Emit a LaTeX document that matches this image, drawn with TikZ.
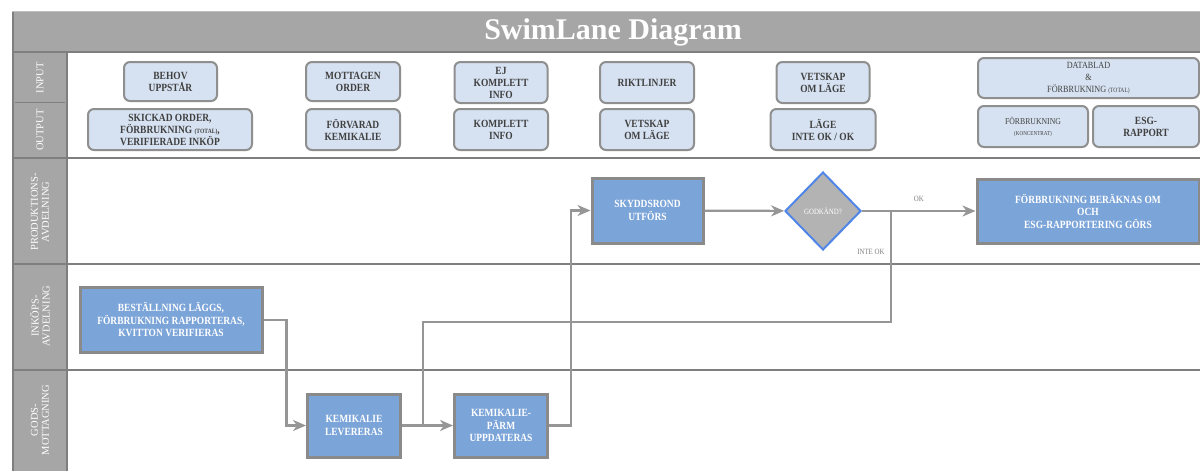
\documentclass[tikz,border=0pt]{standalone}
\usepackage{fontspec}
\setmainfont{Liberation Serif}
\newfontfamily\boxfont[FakeStretch=0.86]{Liberation Serif}
\usetikzlibrary{arrows.meta,positioning,calc,shapes.geometric}
\definecolor{lanegray}{HTML}{A6A6A6}
\definecolor{framegray}{HTML}{7F7F7F}
\definecolor{iofill}{HTML}{D6E2F1}
\definecolor{ioline}{HTML}{8F8F8F}
\definecolor{procfill}{HTML}{7BA4D8}
\definecolor{procline}{HTML}{8A8A8A}
\definecolor{decfill}{HTML}{B3B3B3}
\definecolor{decline}{HTML}{4F86E8}
\definecolor{linkgray}{HTML}{969696}
\definecolor{boxtext}{HTML}{404040}
\newcommand{\lilcaps}[1]{{\fontsize{6.5}{7}\selectfont #1}}

\begin{document}
\begin{tikzpicture}[
  x=1pt, y=-1pt,
  >={Stealth[length=13pt,width=11pt,inset=4pt]},
  iobox/.style={draw=ioline, fill=iofill, line width=2pt, rounded corners=6pt, align=center, inner sep=1pt, text=boxtext, font=\boxfont\fontsize{11}{12}\selectfont\bfseries},
  procbox/.style={draw=procline, fill=procfill, line width=3pt, align=center, inner sep=1pt, text=white, font=\boxfont\fontsize{11}{12.5}\selectfont\bfseries},
  decision/.style={diamond, draw=decline, fill=decfill, line width=2pt, inner sep=0pt, minimum width=76pt, minimum height=78pt, text=white, font=\boxfont\fontsize{8}{8}\selectfont},
  link/.style={->, draw=linkgray, line width=2.2pt},
  flowlbl/.style={text=gray, font=\boxfont\fontsize{8}{8}\selectfont},
  lanelbl/.style={rotate=90, align=center, text=white, font=\fontsize{10.5}{11}\selectfont},
  laneline/.style={draw=framegray, line width=2.5pt}
]
  \fill[white] (0,0) rectangle (1200,471);
  \useasboundingbox (0,0) rectangle (1200,471);

  % frame and lanes
  \fill[lanegray] (12,12) rectangle (1200,52);
  \fill[lanegray] (12,52) rectangle (67,471);
  \draw[framegray!50, line width=1pt] (12,11.5) -- (1200,11.5);
  \draw[framegray, line width=2pt] (13,12) -- (13,471);
  \draw[framegray, line width=2pt] (67,52) -- (67,471);
  \draw[framegray, line width=1.5pt] (12,52) -- (1200,52);
  \draw[framegray, line width=1pt] (15,102) -- (65,102);
  \foreach \yy in {158,264,370}
    \draw[laneline] (12,\yy) -- (1200,\yy);

  \node[font=\fontsize{30}{32}\selectfont\bfseries, text=white] (title) at (613,32) {SwimLane Diagram};

  \node[lanelbl] (inlbl) at (40,78) {INPUT};
  \node[lanelbl] (outlbl) at (40,130) {OUTPUT};
  \node[lanelbl] (prodlbl) at (40,212) {PRODUKTIONS-\\AVDELNING};
  \node[lanelbl] (inklbl) at (40,316) {INKÖPS-\\AVDELNING};
  \node[lanelbl] (godslbl) at (40,420) {GODS-\\MOTTAGNING};

  % input / output
  \node[iobox, minimum width=93pt, minimum height=39pt] (behov) at (170.5,81.5) {BEHOV\\UPPSTÅR};
  \node[iobox, minimum width=164pt, minimum height=41pt] (skickad) at (170,129.5) {SKICKAD ORDER,\\FÖRBRUKNING \lilcaps{(TOTAL)},\\VERIFIERADE INKÖP};
  \node[iobox, minimum width=94pt, minimum height=39pt] (mottagen) at (353,81.5) {MOTTAGEN\\ORDER};
  \node[iobox, minimum width=94pt, minimum height=41pt] (forvarad) at (353,129.5) {FÖRVARAD\\KEMIKALIE};
  \node[iobox, minimum width=93pt, minimum height=41pt] (ejkomplett) at (501,82.5) {EJ\\KOMPLETT\\INFO};
  \node[iobox, minimum width=94pt, minimum height=41pt] (komplett) at (501,129.5) {KOMPLETT\\INFO};
  \node[iobox, minimum width=94pt, minimum height=41pt] (riktlinjer) at (647,82.5) {RIKTLINJER};
  \node[iobox, minimum width=94pt, minimum height=41pt] (vetskapout) at (647,129.5) {VETSKAP\\OM LÄGE};
  \node[iobox, minimum width=93pt, minimum height=41pt] (vetskapin) at (823,82.5) {VETSKAP\\OM LÄGE};
  \node[iobox, minimum width=105pt, minimum height=41pt] (lage) at (823,129.5) {LÄGE\\INTE OK / OK};
  \node[iobox, minimum width=221pt, minimum height=40pt, font=\boxfont\fontsize{9.5}{12}\selectfont] (datablad) at (1088.5,78) {DATABLAD\\\&\\FÖRBRUKNING \lilcaps{(TOTAL)}};
  \node[iobox, minimum width=110pt, minimum height=41pt, font=\boxfont\fontsize{9}{11}\selectfont] (forbrkonc) at (1033,126.5) {FÖRBRUKNING\\{\fontsize{6}{7}\selectfont (KONCENTRAT)}};
  \node[iobox, minimum width=106pt, minimum height=41pt] (esg) at (1146,126.5) {ESG-\\RAPPORT};

  % process
  \node[procbox, minimum width=182pt, minimum height=65pt] (bestallning) at (171,320) {BESTÄLLNING LÄGGS,\\FÖRBRUKNING RAPPORTERAS,\\KVITTON VERIFIERAS};
  \node[procbox, minimum width=93pt, minimum height=63pt] (levereras) at (354,425.5) {KEMIKALIE\\LEVERERAS};
  \node[procbox, minimum width=93pt, minimum height=63pt] (parm) at (501,425.5) {KEMIKALIE-\\PÄRM\\UPPDATERAS};
  \node[procbox, minimum width=111pt, minimum height=65pt] (skyddsrond) at (647.5,210.5) {SKYDDSROND\\UTFÖRS};
  \node[decision] (godkand) at (823,211) {GODKÄND?};
  \node[procbox, minimum width=222pt, minimum height=64pt] (berakna) at (1088,211) {FÖRBRUKNING BERÄKNAS OM\\OCH\\ESG-RAPPORTERING GÖRS};

  \coordinate (okfork) at (891,211);
  \coordinate (joint) at (423,425.5);

  % flow
  \draw[link] (bestallning.east) -- ++(23,0) |- (levereras.west);
  \draw[link] (levereras) -- (parm);
  \draw[link] (parm.east) -- ++(22,0) |- (skyddsrond.west);
  \draw[link] (skyddsrond) -- (godkand);
  \draw[link] (godkand) -- node[flowlbl, above=5pt] {OK} (berakna);
  \draw[link, -] (okfork) -- node[flowlbl, pos=0.37, left=2pt] {INTE OK} ++(0,111) -| (joint);
\end{tikzpicture}
\end{document}
